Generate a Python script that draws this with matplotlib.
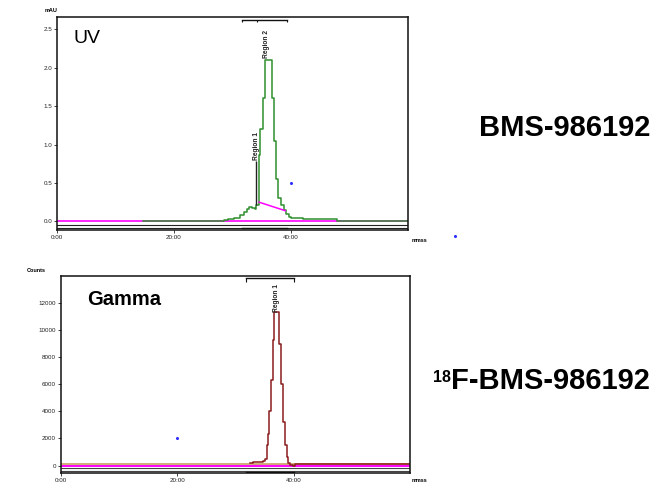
import matplotlib
matplotlib.use('Agg')
from matplotlib import pyplot as plt

plt.rcParams['font.family'] = ['Liberation Sans', 'DejaVu Sans']

# UV trace (min, mAU), step sampled
uv_t = [14.7, 28.5, 29.3, 30.3, 31.2, 31.9, 32.5, 32.9, 33.4, 33.8, 34.1, 34.55, 34.77,
        35.2, 35.6, 36.7, 37.1, 37.5, 37.8, 38.3, 38.8, 39.2, 39.6, 40.0, 42.0, 47.8, 60.0]
uv_y = [0.01, 0.015, 0.03, 0.05, 0.08, 0.12, 0.16, 0.19, 0.17, 0.16, 0.22, 0.87, 1.2,
        1.6, 2.1, 1.6, 1.05, 0.55, 0.3, 0.22, 0.15, 0.1, 0.06, 0.04, 0.03, 0.01, 0.01]
uv_base_t = [34.55, 39.0]
uv_base_y = [0.25, 0.14]
uv_regions = ['Region 1', 'Region 2']
uv_region_t = [34.1, 35.8]
uv_region_y = [0.8, 2.13]
uv_bracket = [31.6, 34.2, 39.3]
uv_dots_t = [40.0, 68.0]
uv_dots_y = [0.5, -0.19]

# Gamma trace (min, counts), step sampled
g_t = [32.5, 33.1, 34.8, 35.1, 35.36, 35.6, 35.8, 36.05, 36.4, 36.6, 37.5, 37.9, 38.2,
       38.5, 38.8, 39.1, 39.4, 39.9, 40.2, 41.4, 60.0]
g_y = [200, 250, 300, 500, 1500, 2300, 4000, 6300, 9250, 11300, 9000, 6000, 3200,
       1500, 600, 200, 50, 0, 150, 100, 100]
g_base = 100
g_pink = -60
g_regions = ['Region 1']
g_region_t = [37.1]
g_region_y = [11350]
g_bracket = [31.9, 40.0]
g_dots_t = [20.0]
g_dots_y = [2000]

uv_yticks = [0.0, 0.5, 1.0, 1.5, 2.0, 2.5]
uv_ylabels = ['0.0', '0.5', '1.0', '1.5', '2.0', '2.5']
g_yticks = [0, 2000, 4000, 6000, 8000, 10000, 12000]
g_ylabels = ['0', '2000', '4000', '6000', '8000', '10000', '12000']
xticks = [0, 20, 40]
xlabels = ['0:00', '20:00', '40:00']

GREEN = '#2f8f2f'
PINK = '#ff00ff'
BROWN = '#8b1c1c'
TAN = '#c8a064'

fig = plt.figure(figsize=(6.54, 4.87), dpi=100)
ax1 = fig.add_axes([0.087, 0.528, 0.537, 0.437])
ax2 = fig.add_axes([0.093, 0.029, 0.534, 0.404])


def style(ax, yt, yl):
    ax.set_xlim(0, 60)
    ax.set_xticks(xticks)
    ax.set_xticklabels(xlabels)
    ax.set_yticks(yt)
    ax.set_yticklabels(yl)
    ax.tick_params(labelsize=4.5, length=2, width=0.6, pad=1.5, colors='#222222')
    for s in ax.spines.values():
        s.set_linewidth(1.1)
        s.set_color('#111111')


def bracket(ax, xs, y, h):
    ax.plot([xs[0], xs[-1]], [y, y], color='#111111', lw=1.0)
    ax.vlines(xs, y - h, y, color='#111111', lw=0.8)


# --- UV panel
ax1.set_ylim(-0.11, 2.66)
ax1.axhline(0.0, color=PINK, lw=1.2)
ax1.plot(uv_t, uv_y, drawstyle='steps-post', color=GREEN, lw=1.1)
ax1.plot(uv_base_t, uv_base_y, color=PINK, lw=1.1)
ax1.vlines(uv_region_t[0], uv_y[10], 0.78, color='#222222', lw=1.0)
for lab, t, y in zip(uv_regions, uv_region_t, uv_region_y):
    ax1.text(t, y, lab, rotation=90, fontsize=4.8, fontweight='bold',
             ha='center', va='bottom', color='#222222')
ax1.axhline(-0.05, color='#222222', lw=0.8)
ax1.axhline(-0.08, color='#222222', lw=0.8)
bracket(ax1, uv_bracket, 2.62, 0.03)
bracket(ax1, uv_bracket, -0.09, 0.0)
ax1.scatter(uv_dots_t, uv_dots_y, s=1.5, color='#3030ff', clip_on=False, zorder=5)
style(ax1, uv_yticks, uv_ylabels)
ax1.text(0.046, 0.94, 'UV', transform=ax1.transAxes, fontsize=14,
         ha='left', va='top')

# --- Gamma panel
ax2.set_ylim(-540, 13970)
ax2.axhline(g_base, color=TAN, lw=1.2)
ax2.axhline(g_pink, color=PINK, lw=1.4)
ax2.fill_between([g_t[1], g_t[18]], g_pink, g_base, color=PINK, alpha=0.35, lw=0)
ax2.plot(g_t, g_y, drawstyle='steps-post', color=BROWN, lw=1.1)
for lab, t, y in zip(g_regions, g_region_t, g_region_y):
    ax2.text(t, y, lab, rotation=90, fontsize=4.8, fontweight='bold',
             ha='center', va='bottom', color='#222222')
ax2.axhline(-200, color='#444444', lw=0.8)
ax2.axhline(-370, color='#444444', lw=0.8)
bracket(ax2, g_bracket, 13800, 250)
ax2.plot(g_bracket, [-450, -450], color='#111111', lw=1.0)
ax2.scatter(g_dots_t, g_dots_y, s=1.5, color='#3030ff', zorder=5)
style(ax2, g_yticks, g_ylabels)
ax2.text(0.074, 0.93, 'Gamma', transform=ax2.transAxes, fontsize=14.5,
         fontweight='bold', ha='left', va='top')

# axis unit labels
fig.text(45 / 654, 1 - 11 / 487, 'mAU', fontsize=4, fontweight='bold', va='center')
fig.text(27 / 654, 1 - 270 / 487, 'Counts', fontsize=4, fontweight='bold', va='center')
fig.text(412 / 654, 1 - 240 / 487, 'mmss', fontsize=4, fontweight='bold', va='center')
fig.text(412 / 654, 1 - 481 / 487, 'mmss', fontsize=4, fontweight='bold', va='center')

# compound labels
fig.text(650 / 654, 1 - 128 / 487, 'BMS-986192', fontsize=21, fontweight='bold',
         ha='right', va='center')
main = fig.text(650 / 654, 1 - 381 / 487, 'F-BMS-986192', fontsize=21, fontweight='bold',
                ha='right', va='center')
bb = main.get_window_extent(renderer=fig.canvas.get_renderer())
fig.text(bb.x0 / fig.bbox.width, (bb.y1 - 3) / fig.bbox.height, '18', fontsize=11.5,
         fontweight='bold', ha='right', va='top')

fig.savefig('out.png', dpi=100)
